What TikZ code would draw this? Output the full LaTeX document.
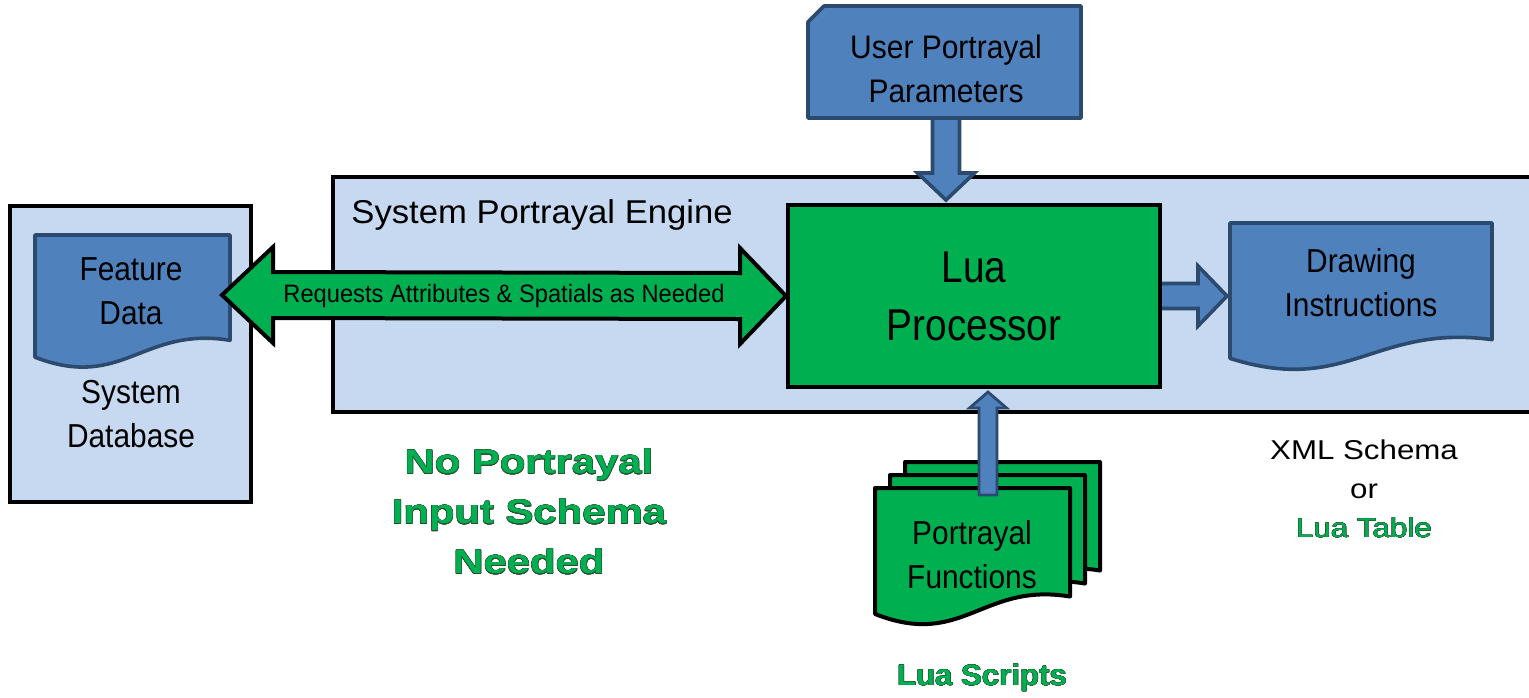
\documentclass[tikz,border=0pt]{standalone}
\usepackage{fontspec}
\setmainfont{Liberation Sans}
\usepackage{contour}
\usetikzlibrary{calc}

\definecolor{paleblue}{HTML}{C6D9F1}
\definecolor{docblue}{HTML}{4F81BD}
\definecolor{navy}{HTML}{2C4A6E}
\definecolor{luagreen}{HTML}{00B050}
\definecolor{edgegreen}{HTML}{2E4A30}

\contourlength{0.2pt}
\contournumber{16}
\newcommand{\edged}[1]{\contour{edgegreen}{#1}}
% size, leading, horizontal stretch
\newcommand{\sfnt}[3]{\fontsize{#1}{#2}\selectfont\addfontfeatures{FakeStretch=#3}}

% document outline with a wavy foot: style, left, top, right, lowest point
\newcommand{\docshape}[5]{%
  \draw[#1] ({#2},{#3}) -- ({#4},{#3}) -- ({#4},{(#5)-0.19*((#5)-(#3))})
    .. controls ({(#4)-0.45*((#4)-(#2))},{(#5)-0.3*((#5)-(#3))})
    and ({(#2)+0.45*((#4)-(#2))},{(#5)+0.2*((#5)-(#3))})
    .. ({#2},{(#5)-0.06*((#5)-(#3))}) -- cycle;}

\tikzset{
  outerbox/.style={draw=black, fill=paleblue, line width=2pt, inner sep=0pt},
  luabox/.style={draw=black, fill=luagreen, line width=2pt, inner sep=0pt,
    font=\sfnt{22.3}{29}{0.87}, align=center},
  bluedoc/.style={draw=navy, fill=docblue, line width=1.8pt, line join=round},
  greendoc/.style={draw=black, fill=luagreen, line width=2pt, line join=round},
  bluearrow/.style={draw=navy, fill=docblue, line width=1.8pt, line join=miter},
  greenarrow/.style={draw=black, fill=luagreen, line width=2pt, line join=miter},
  txt/.style={font=\sfnt{16.6}{22}{0.9}, align=center, inner sep=0pt},
  note/.style={font=\bfseries\sfnt{17}{25}{1.23}, align=center,
    inner sep=0pt, text=luagreen}
}

\begin{document}
\begin{tikzpicture}[x=0.5pt, y=-0.5pt]
  \useasboundingbox (0,0) rectangle (1529,697);

  % database and engine frames
  \node[outerbox, minimum width=120.5pt, minimum height=148pt] (sysdb) at (130.5,354) {};
  \node[outerbox, minimum width=606pt, minimum height=117.5pt] (engine) at (939,294.5) {};
  \node[txt, font=\sfnt{16.5}{22}{1.05}, anchor=west] (enginename) at (351,215) {System Portrayal Engine};

  % feature data
  \docshape{bluedoc}{35}{235}{230}{365}
  \node[txt] (fdata) at (131,291) {Feature\\Data};
  \node[txt] (dbname) at (131,414) {System\\Database};

  % user parameters card
  \draw[bluearrow] (946,118) ++(-13.5,0) -- ++(0,55) -- ++(-15,0) -- ++(28.5,27)
    -- ++(28.5,-27) -- ++(-15,0) -- ++(0,-55) -- cycle;
  \draw[bluedoc] (824,6) -- (1081,6) -- (1081,118) -- (808,118) -- (808,22) -- cycle;
  \node[txt, font=\sfnt{16.3}{22}{0.92}] (userpar) at (946,69) {User Portrayal\\Parameters};
  \coordinate (cardfoot) at (946,118);

  % output
  \docshape{bluedoc}{1230}{223}{1492}{367}
  \node[txt] (drawing) at (1361,283) {Drawing\\Instructions};

  % lua processor
  \coordinate (luaout) at (1160,296);
  \draw[bluearrow] (luaout) ++(0,-12.5) -- ++(38,0) -- ++(0,-17.5) -- ++(29,30)
    -- ++(-29,30) -- ++(0,-17.5) -- ++(-38,0) -- cycle;
  \node[luabox, minimum width=186pt, minimum height=91pt] (lua) at (974,296) {Lua\\Processor};

  % requests arrow
  \coordinate (reqL) at (222,295);
  \coordinate (reqR) at (lua.west);
  \draw[greenarrow] (reqL) -- ++(51,-48) -- ++(0,25) -- ($(reqR)+(-46,-23)$) -- ++(0,-25)
    -- (reqR) -- ++(-46,48) -- ++(0,-25) -- ($(reqL)+(51,23)$) -- ++(0,25) -- cycle;
  \node[txt, font=\sfnt{12.6}{14}{0.94}] (req) at ($(reqL)!0.5!(reqR)$) {Requests Attributes \& Spatials as Needed};

  % portrayal functions
  \foreach \d in {2,1,0}
    \docshape{greendoc}{875+15*\d}{488-13*\d}{1070+15*\d}{622-13*\d};
  \coordinate (upfoot) at (988,495);
  \draw[bluearrow, line width=1.4pt] (upfoot) ++(-9,0) -- ++(0,-87) -- ++(-9.5,0) -- ++(18.5,-16)
    -- ++(18.5,16) -- ++(-9.5,0) -- ++(0,87) -- cycle;
  \node[txt] (funcs) at (972,555) {Portrayal\\Functions};

  % notes
  \node[note] (noschema) at (529,512) {\edged{No Portrayal}\\\edged{Input Schema}\\\edged{Needed}};
  \node[note, font=\bfseries\sfnt{14.7}{19}{1.06}] (scripts) at (982,678) {\edged{Lua Scripts}};
  \node[txt, font=\sfnt{13.6}{19.5}{1.15}] (outfmt) at (1364,489)
    {XML Schema\\or\\\textcolor{luagreen}{\edged{Lua Table}}};
\end{tikzpicture}
\end{document}
